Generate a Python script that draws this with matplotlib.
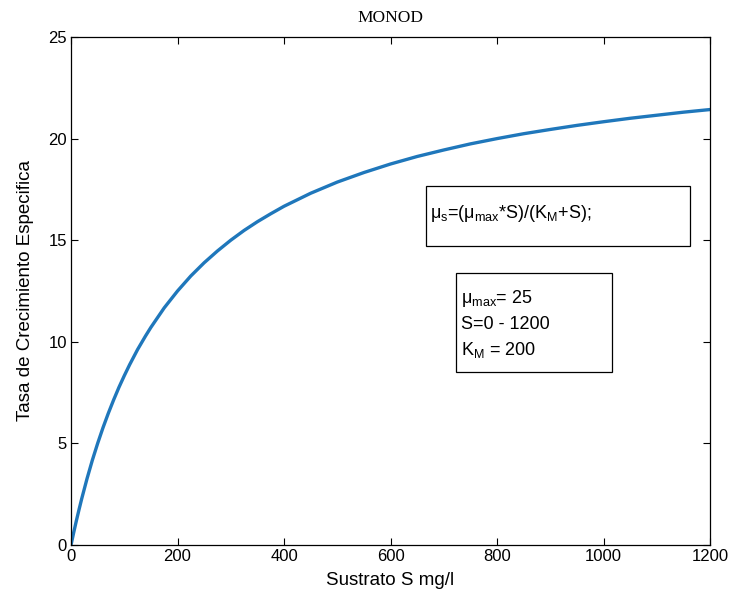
import matplotlib
matplotlib.use('Agg')
import matplotlib.pyplot as plt
from matplotlib.patches import Rectangle

plt.rcParams['font.family'] = ['Liberation Sans', 'DejaVu Sans']
plt.rcParams['mathtext.fontset'] = 'custom'
plt.rcParams['mathtext.rm'] = 'Liberation Sans'
plt.rcParams['mathtext.it'] = 'Liberation Sans'
plt.rcParams['mathtext.default'] = 'rm'

# ── data ──────────────────────────────────────────────────────────────────
sustrato = [0, 5, 10, 15, 20, 30, 40, 50, 60, 70, 80, 90, 100, 110, 125, 140,
            150, 175, 200, 225, 250, 275, 300, 325, 350, 375, 400, 450, 500,
            550, 600, 650, 700, 750, 800, 850, 900, 950, 1000, 1050, 1100,
            1150, 1200]
tasa = [0.0, 0.61, 1.19, 1.74, 2.27, 3.26, 4.17, 5.0, 5.77, 6.48, 7.14, 7.76,
        8.33, 8.87, 9.62, 10.29, 10.71, 11.67, 12.5, 13.24, 13.89, 14.47,
        15.0, 15.48, 15.91, 16.3, 16.67, 17.31, 17.86, 18.33, 18.75, 19.12,
        19.44, 19.74, 20.0, 20.24, 20.45, 20.65, 20.83, 21.0, 21.15, 21.3,
        21.43]
xticks = [0, 200, 400, 600, 800, 1000, 1200]
yticks = [0, 5, 10, 15, 20, 25]

fig = plt.figure(figsize=(7.3, 5.96), dpi=100)
ax = fig.add_axes([0.0973, 0.0856, 0.8753, 0.8523])

ax.plot(sustrato, tasa, color='#1f77bb', lw=2.4)
ax.set_xlim(0, 1200)
ax.set_ylim(0, 25)
ax.set_xticks(xticks)
ax.set_yticks(yticks)
ax.tick_params(direction='in', top=True, right=True, length=5, labelsize=12,
               width=0.8, pad=3)
for sp in ax.spines.values():
    sp.set_linewidth(0.9)

ax.set_title('MONOD', family='Liberation Serif', fontsize=12.5, pad=11)
ax.set_xlabel('Sustrato S mg/l', fontsize=13.5, labelpad=6)
ax.set_ylabel('Tasa de Crecimiento Especifica', fontsize=13.5, labelpad=10)

# text boxes
ax.add_patch(Rectangle((667, 14.71), 495, 2.96, fill=False, lw=0.9,
                       edgecolor='black', clip_on=False))
ax.text(675, 16.3, r'$\mu_s$=($\mu_{max}$*S)/(K$_M$+S);', fontsize=13,
        va='center', ha='left')

ax.add_patch(Rectangle((723, 8.51), 293, 4.88, fill=False, lw=0.9,
                       edgecolor='black', clip_on=False))
ax.text(733, 12.15, r'$\mu_{max}$= 25', fontsize=13, va='center', ha='left')
ax.text(733, 10.85, 'S=0 - 1200', fontsize=13, va='center', ha='left')
ax.text(733, 9.6, r'K$_M$ = 200', fontsize=13, va='center', ha='left')

fig.savefig('out.png', dpi=100, facecolor='white')
